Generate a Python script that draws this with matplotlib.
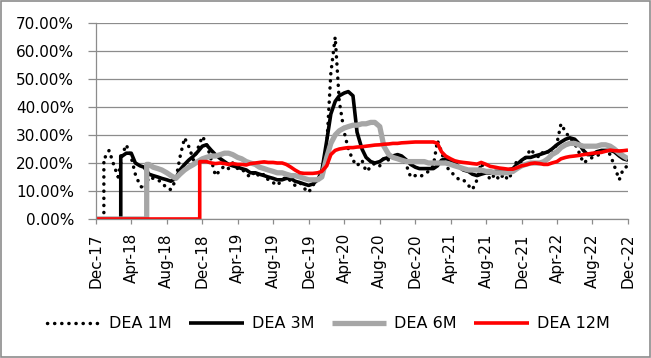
import matplotlib
matplotlib.use("Agg")
import matplotlib.pyplot as plt
import matplotlib.dates as mdates
from matplotlib.ticker import PercentFormatter
from matplotlib.patches import Rectangle
import pandas as pd

plt.rcParams['font.family'] = ['DejaVu Sans']

# semi-monthly observation grid (1st and 15th), Jan-2018 .. Dec-2022
grid = pd.date_range('2018-01-01', '2022-12-01', freq='SMS')
origin = '2017-12-01'

labels = ['DEA 1M', 'DEA 3M', 'DEA 6M', 'DEA 12M']
starts = ['2017-12-28', '2018-02-24', '2018-05-24', '2018-11-22']

v1 = [22, 24.5, 19, 15, 23, 26.5, 22, 16, 12, 10.5,
      15, 14.5, 14, 13, 11, 10.5, 14, 22, 29, 26,
      21, 25, 29.5, 27, 21, 15.5, 17.5, 19, 18, 20,
      18, 18, 16, 15, 17, 15, 16, 14, 13, 12,
      14, 15, 13.5, 12, 13, 11, 9.5, 12, 14, 17,
      26, 52, 65, 42, 31, 25, 21, 19, 21, 17,
      18.5, 20, 19, 22, 21, 22.5, 23, 22, 19, 15,
      15.5, 15, 16, 17, 19, 28, 24, 19, 17, 15.5,
      14, 14, 12, 10.5, 14, 20, 17, 14, 16, 14,
      16, 14, 17, 21, 20, 22, 25, 23, 22, 24.5,
      24, 23, 27, 34, 31, 29, 27, 24, 20, 21,
      22, 22.5, 23.5, 24.5, 23, 19, 14, 18, 19]

v3 = [22.5, 23.5, 23.5, 20, 19, 18.5,
      16, 15.5, 15, 14.5, 14, 13.5, 14.5, 17.5, 19.5, 21,
      22.5, 24, 26, 26.5, 24.5, 23, 21.5, 20.5, 19.5, 19,
      18.5, 18, 17.5, 16.5, 16.5, 16, 15.5, 15, 14.5, 14,
      14, 14.5, 14.5, 13.5, 13, 12.5, 12, 12.5, 14, 17,
      28, 37.5, 42, 44, 45, 45.5, 44, 31, 25, 22,
      20.5, 20, 20.5, 21.5, 22, 22.5, 23, 22.5, 21, 19.5,
      18.5, 18, 18, 18, 18, 19, 21, 21.5, 21, 20,
      18.5, 17.5, 17, 16, 15.5, 16, 16.5, 16.5, 17, 17,
      17.5, 17.5, 18, 19.5, 21, 22, 22, 22.5, 23, 23.5,
      24, 25, 26.5, 27.5, 28.5, 29, 28.5, 27, 24.5, 23,
      23, 24, 24.5, 24.5, 24.5, 24, 22.5, 21.5, 21]

v6 = [19.5, 18.5, 18, 17.5, 16.5, 15.5, 14.5, 16, 17.5, 18.5,
      19.5, 20.5, 21.5, 22, 22.5, 22.5, 23, 23.5, 23.5, 23,
      22, 21.5, 20.5, 20, 19.5, 18.5, 18, 17.5, 17, 16.5,
      16.5, 16, 15.5, 15.5, 15, 14.5, 14, 14, 14, 15,
      22, 27, 30, 31.5, 32.5, 33, 33.5, 33.5, 34, 34,
      34.5, 34.5, 33, 26, 23, 22, 21.5, 21, 20.5, 20.5,
      20.5, 20.5, 20.5, 20, 20, 20, 20, 20, 19.5, 19,
      18.5, 18, 17.5, 17.5, 17.5, 17.5, 17, 17, 16.5, 16.5,
      16.5, 16.5, 17, 18, 19, 19.5, 20, 20, 20, 20.5,
      21.5, 23, 24, 25.5, 26.5, 27, 27, 26.5, 26, 26,
      26, 26, 26.5, 26.5, 26, 25, 23.5, 22.5, 21.5]

v12 = [20.5, 20.5, 20, 19.8, 20, 19.8, 19.5, 19.8,
       19.5, 19.5, 19.3, 19.8, 20, 20.2, 20.4, 20.2, 20.2, 20,
       20, 19.5, 18.5, 17.5, 16.5, 16.3, 16.3, 16.3, 16.5, 17,
       19, 23, 24.5, 25, 25.3, 25.5, 25.5, 25.7, 25.8, 26,
       26.2, 26.4, 26.5, 26.7, 26.8, 27, 27, 27.2, 27.3, 27.4,
       27.5, 27.5, 27.5, 27.5, 27.5, 27, 24, 22.5, 21.5, 20.8,
       20.4, 20.2, 20, 19.8, 19.6, 20.2, 19.5, 18.8, 18.5, 18.2,
       18, 17.8, 17.8, 18.3, 19, 19.3, 19.8, 20, 19.8, 19.5,
       19.5, 20, 20.5, 21.5, 22, 22.3, 22.5, 22.7, 23, 23.2,
       23.5, 23.6, 23.8, 24.2, 24.6, 24.4, 24.3, 24.4, 24.6]

series = [v1, v3, v6, v12]
colors = ['black', 'black', '#a6a6a6', '#ff0000']
widths = [2.5, 2.6, 3.8, 2.6]
styles = [(0, (0.05, 2.0)), '-', '-', '-']

fig = plt.figure(figsize=(6.51, 3.58), dpi=100)
ax = fig.add_axes([96/651, 1 - 219/358, (628 - 96)/651, (219 - 23)/358])

for lab, st, vals, c, w, ls in zip(labels, starts, series, colors, widths, styles):
    d = [pd.Timestamp(origin), pd.Timestamp(st), pd.Timestamp(st)] + list(grid[-len(vals):])
    y = [0, 0, vals[0]] + list(vals)
    ax.plot(d, y, color=c, lw=w, linestyle=ls, label=lab,
            dash_capstyle='round', solid_joinstyle='round', solid_capstyle='butt')

ax.set_xlim(pd.Timestamp('2017-12-01'), pd.Timestamp('2022-12-01'))
ax.set_ylim(0, 70)
ax.set_yticks(range(0, 71, 10))
ax.yaxis.set_major_formatter(PercentFormatter(100, decimals=2))
ax.xaxis.set_major_locator(mdates.MonthLocator(bymonth=[4, 8, 12]))
ax.xaxis.set_major_formatter(mdates.DateFormatter('%b-%y'))
ax.grid(axis='y', color='#8c8c8c', lw=0.9)
ax.set_axisbelow(True)
for s in ['top', 'right']:
    ax.spines[s].set_visible(False)
for s in ['left', 'bottom']:
    ax.spines[s].set_color('#8c8c8c')
    ax.spines[s].set_linewidth(0.9)
ax.tick_params(axis='y', length=5.8, color='#8c8c8c', width=0.9, pad=10, labelsize=11)
ax.tick_params(axis='x', length=3.6, color='#8c8c8c', width=0.9, pad=6.5, labelsize=11,
               rotation=90)

fig.legend(loc='center', bbox_to_anchor=(0.504, 1 - 324/358), ncol=4, frameon=False,
           fontsize=11.5, handlelength=3.4, handletextpad=0.5, columnspacing=1.1)

fig.patches.append(Rectangle((0.001, 0.002), 0.997, 0.995, transform=fig.transFigure,
                             fill=False, edgecolor='#8c8c8c', lw=1.2))

fig.savefig('out.png', dpi=100)
